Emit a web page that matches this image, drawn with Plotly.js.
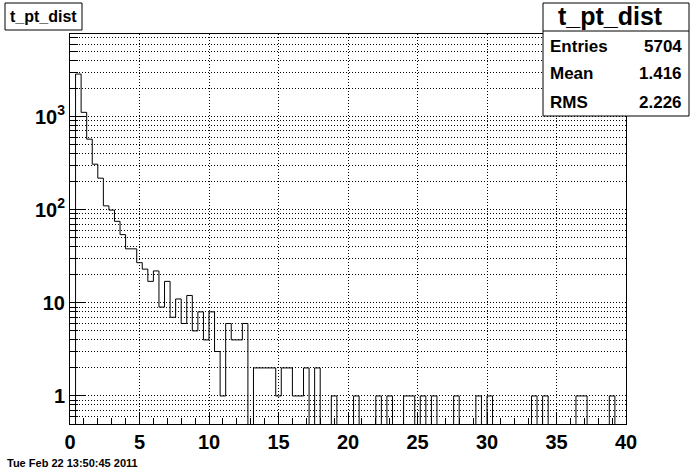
<!DOCTYPE html>
<html>
<head>
<meta charset="utf-8">
<script src="https://cdn.plot.ly/plotly-3.0.1.min.js"></script>
<style>html,body{margin:0;padding:0;background:#fff;}#chart{width:696px;height:472px;}</style>
</head>
<body>
<div id="chart"></div>
<script>
// ---- data ----
const histTitle = "t_pt_dist";
const xMin = 0;
const binWidth = 0.4;
const counts = [
  0, 2860, 1110, 572, 308, 218, 110, 99, 75, 54,
  38, 38, 27, 23, 17, 22, 9, 17, 7, 11,
  6, 12, 5, 8, 4, 8, 3, 1, 6, 4,
  4, 6, 0, 2, 2, 2, 2, 1, 2, 2,
  1, 1, 2, 0, 2, 0, 0, 1, 0, 0,
  0, 1, 0, 0, 0, 1, 0, 1, 0, 0,
  1, 1, 0, 1, 0, 1, 0, 0, 0, 1,
  0, 0, 0, 1, 0, 1, 0, 0, 0, 0,
  0, 0, 0, 1, 0, 1, 0, 0, 0, 0,
  0, 1, 1, 0, 0, 0, 0, 1, 0, 0
];
const xTickVals = [0, 5, 10, 15, 20, 25, 30, 35, 40];
const yTickVals = [1, 10, 100, 1000];
const yTickText = ["1", "10", "10<sup>2</sup>", "10<sup>3</sup>"];
const yMinorVals = [0.6, 0.7, 0.8, 0.9, 2, 3, 4, 5, 6, 7, 8, 9,
  20, 30, 40, 50, 60, 70, 80, 90, 200, 300, 400, 500, 600, 700, 800, 900,
  2000, 3000, 4000, 5000, 6000, 7000];
const statLabels = ["Entries", "Mean", "RMS"];
const statValues = ["5704", "1.416", "2.226"];
const dateStamp = "Tue Feb 22 13:50:45 2011";

// ---- build step line ----
const yFloor = 0.2; // empty bins drop below the visible range (as in ROOT log display)
const xs = [], ys = [];
counts.forEach((c, i) => { xs.push(xMin + i * binWidth); ys.push(c > 0 ? c : yFloor); });
xs.push(xMin + counts.length * binWidth); ys.push(ys[ys.length - 1]);

const W = 696, H = 472, L = 70, R = 626, T = 34, B = 424;
const px = v => (v - L) / (R - L);
const py = v => (B - v) / (B - T);

const FONT = "Liberation Sans, Arial, Helvetica, sans-serif";
const dotted = "1px,2px";

const trace = {
  type: "scatter", mode: "lines", x: xs, y: ys,
  line: {shape: "hv", color: "#000", width: 1},
  hoverinfo: "skip", showlegend: false
};

const shapes = [
  {type: "rect", xref: "paper", yref: "paper", x0: px(5), x1: px(82), y0: py(30), y1: py(3),
   line: {color: "#000", width: 1}, fillcolor: "#fff", layer: "above"},
  {type: "rect", xref: "paper", yref: "paper", x0: px(543), x1: px(689), y0: py(116), y1: py(3),
   line: {color: "#000", width: 1}, fillcolor: "#fff", layer: "above"},
  {type: "line", xref: "paper", yref: "paper", x0: px(543), x1: px(689), y0: py(31), y1: py(31),
   line: {color: "#000", width: 1}, layer: "above"}
];

const annotations = [
  {xref: "paper", yref: "paper", x: px(43.5), y: py(16.5), xanchor: "center", yanchor: "middle",
   text: histTitle, showarrow: false, font: {family: FONT, size: 16, weight: "bold", color: "#000"}},
  {xref: "paper", yref: "paper", x: px(610), y: py(16.5), xanchor: "center", yanchor: "middle",
   text: histTitle, showarrow: false, font: {family: FONT, size: 25, weight: "bold", color: "#000"}},
  {xref: "paper", yref: "paper", x: px(5), y: py(463), xanchor: "left", yanchor: "middle",
   text: dateStamp, showarrow: false, font: {family: FONT, size: 11, weight: "bold", color: "#000"}}
];
const rowY = [46, 74, 102];
statLabels.forEach((lab, i) => {
  annotations.push({xref: "paper", yref: "paper", x: px(548), y: py(rowY[i]), xanchor: "left", yanchor: "middle",
    text: lab, showarrow: false, font: {family: FONT, size: 17, weight: "bold", color: "#000"}});
  annotations.push({xref: "paper", yref: "paper", x: px(684), y: py(rowY[i]), xanchor: "right", yanchor: "middle",
    text: statValues[i], showarrow: false, font: {family: FONT, size: 17, weight: "bold", color: "#000"}});
});

const layout = {
  width: W, height: H,
  margin: {l: L, r: W - R, t: T, b: H - B, pad: 0},
  paper_bgcolor: "#fff", plot_bgcolor: "#fff",
  showlegend: false,
  xaxis: {
    range: [0, 40], tickmode: "array", tickvals: xTickVals,
    ticks: "inside", ticklen: 12, tickwidth: 1, tickcolor: "#000",
    showline: true, linecolor: "#000", linewidth: 1, mirror: true,
    showgrid: true, gridcolor: "#000", gridwidth: 1, griddash: dotted,
    zeroline: false,
    tickfont: {family: FONT, size: 20, weight: "bold", color: "#000"},
    minor: {dtick: 1, tick0: 0, ticks: "inside", ticklen: 6, tickcolor: "#000", showgrid: false}
  },
  yaxis: {
    type: "log", range: [Math.log10(0.5), Math.log10(7700)],
    tickmode: "array", tickvals: yTickVals, ticktext: yTickText,
    ticks: "inside", ticklen: 16, tickwidth: 1, tickcolor: "#000",
    showline: true, linecolor: "#000", linewidth: 1, mirror: true,
    showgrid: true, gridcolor: "#000", gridwidth: 1, griddash: dotted,
    zeroline: false,
    tickfont: {family: FONT, size: 20, weight: "bold", color: "#000"},
    minor: {tickmode: "array", tickvals: yMinorVals, ticks: "inside", ticklen: 8, tickcolor: "#000",
            showgrid: true, gridcolor: "#000", gridwidth: 1, griddash: dotted}
  },
  shapes: shapes,
  annotations: annotations
};

Plotly.newPlot("chart", [trace], layout, {staticPlot: true, displayModeBar: false});
</script>
</body>
</html>
